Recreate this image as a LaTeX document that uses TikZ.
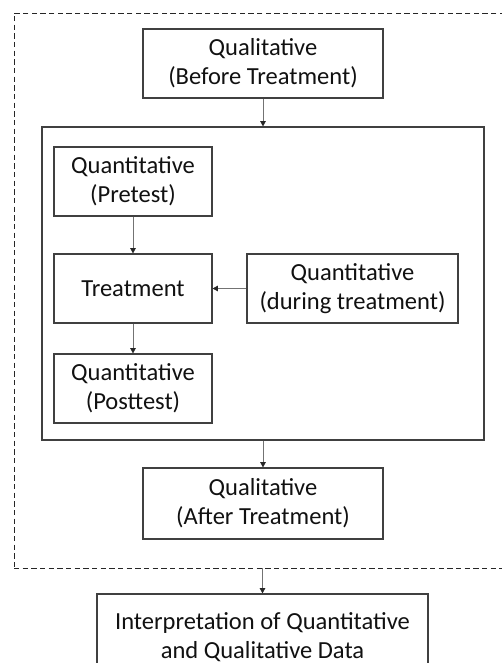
\documentclass[tikz,border=0pt]{standalone}
\usepackage{fontspec}
\setmainfont{Carlito}
\usetikzlibrary{arrows.meta,positioning}
\definecolor{cLine}{HTML}{404040}
\definecolor{cText}{HTML}{111111}

\begin{document}
\begin{tikzpicture}[x=0.75pt,y=-0.75pt,>={Triangle[length=4pt,width=4.2pt,color=black!85]},
   font=\fontsize{18.4}{21.8}\selectfont,
   pbox/.style={draw=cLine,line width=0.9pt,fill=white,rectangle,align=center,
                inner sep=0pt,text=cText,minimum height=51.75pt},
   arr/.style={->,draw=black!55,line width=0.6pt}]
  \clip (0,0) rectangle (502,663);
  \useasboundingbox (0,0) rectangle (502,663);
  % outer dashed group
  \node[draw=black!85,line width=0.7pt,dash pattern=on 4pt off 2.5pt,
        minimum width=375.75pt,minimum height=416.25pt,inner sep=0pt] (outer) at (264.5,290.5) {};
  \node[pbox,minimum width=180pt] (qbefore) at (263,63.5) {Qualitative\\(Before Treatment)};
  % experiment frame
  \node[draw=cLine,line width=0.9pt,minimum width=331.5pt,minimum height=234.75pt,
        inner sep=0pt] (frame) at (263,283.5) {};
  \node[pbox,minimum width=118.5pt] (pretest) at (133,181.5) {Quantitative\\(Pretest)};
  \node[pbox,minimum width=118.5pt] (treat) at (133,288.5) {Treatment};
  \node[pbox,minimum width=158.25pt] (during) at (352.5,288.5) {Quantitative\\(during treatment)};
  \node[pbox,minimum width=118.5pt] (posttest) at (133,388.5) {Quantitative\\(Posttest)};
  \node[pbox,minimum width=180pt,minimum height=53.25pt] (qafter) at (263,503.5) {Qualitative\\(After Treatment)};
  \node[pbox,minimum width=248.25pt,minimum height=65.25pt] (interp) at (262.5,637.5)
     {Interpretation of Quantitative\\and Qualitative Data};
  % connectors
  \draw[arr] (qbefore) -- (frame);
  \draw[arr] (pretest) -- (treat);
  \draw[arr] (during) -- (treat);
  \draw[arr] (treat) -- (posttest);
  \draw[arr] (frame) -- (qafter);
  \coordinate (outbot) at (interp.north |- outer.south);
  \draw[arr] (outbot) -- (interp);
\end{tikzpicture}
\end{document}
